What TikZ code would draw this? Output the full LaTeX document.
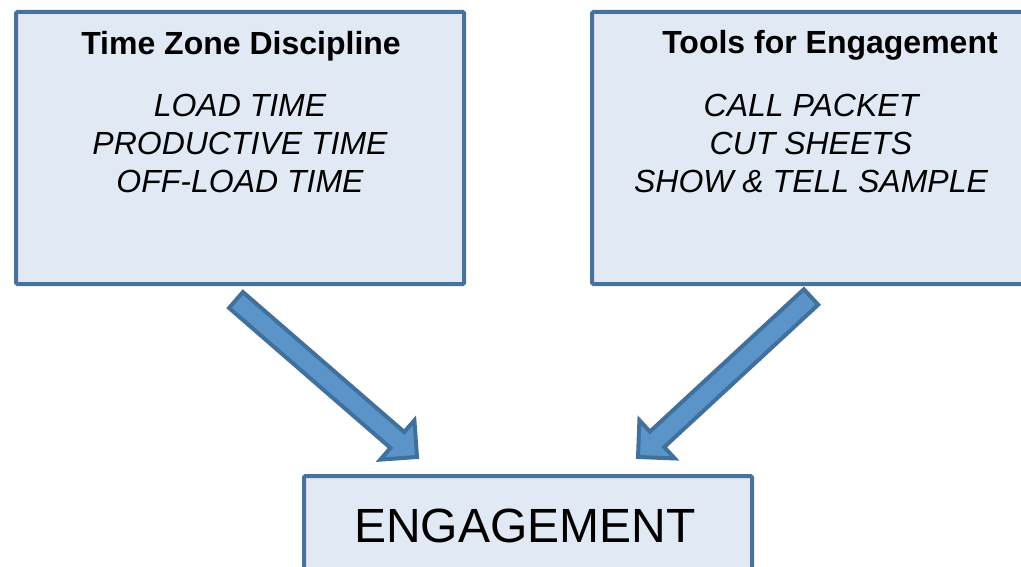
\documentclass[tikz,border=0pt]{standalone}
\usepackage{fontspec}
\setmainfont{Liberation Sans}
\usetikzlibrary{calc}
\definecolor{boxfill}{HTML}{E1E9F4}
\definecolor{boxline}{HTML}{4A719A}
\definecolor{arrowfill}{HTML}{5B94C9}
\definecolor{arrowline}{HTML}{41709C}
\tikzset{
  panel/.style={draw=boxline, fill=boxfill, line width=3pt, rounded corners=1pt},
  heading/.style={anchor=base, font=\fontsize{24}{28}\selectfont\bfseries, inner sep=0pt},
  item/.style={anchor=base, font=\fontsize{24}{28}\selectfont\itshape, inner sep=0pt},
  bigword/.style={anchor=base, font=\fontsize{36}{40}\selectfont, inner sep=0pt},
  blockarrow/.style={draw=arrowline, fill=arrowfill, line width=3pt, line join=miter}
}
% draws a block arrow from tail #1 to tip #2
\newcommand{\blockarrowpath}[2]{%
  \coordinate (hb) at ($(#2)!19.5pt!(#1)$);
  \path[blockarrow]
    ($(#1)!7.9pt!90:(#2)$) -- ($(hb)!7.9pt!90:(#2)$) -- ($(hb)!19.5pt!90:(#2)$)
    -- (#2) -- ($(hb)!19.5pt!-90:(#2)$) -- ($(hb)!7.9pt!-90:(#2)$)
    -- ($(#1)!7.9pt!-90:(#2)$) -- cycle;
}
\begin{document}
\begin{tikzpicture}[x=0.75pt, y=-0.75pt]
  \path[use as bounding box, clip] (0,0) rectangle (1021,567);
  \fill[white] (0,0) rectangle (1021,567);

  % the three boxes
  \node[panel, inner sep=0pt, minimum width=448*0.75pt, minimum height=272*0.75pt, anchor=north west] (tzd) at (14,10) {};
  \node[panel, inner sep=0pt, minimum width=442*0.75pt, minimum height=272*0.75pt, anchor=north west] (tfe) at (590,10) {};
  \node[panel, inner sep=0pt, minimum width=448*0.75pt, minimum height=126*0.75pt, anchor=north west] (eng) at (302,474) {};

  % left box text
  \node[heading] (tzdtitle) at (241,55) {Time Zone Discipline};
  \node[item] (tzda) at (240,117) {LOAD TIME};
  \node[item] (tzdb) at (240,154) {PRODUCTIVE TIME};
  \node[item] (tzdc) at (240,192) {OFF-LOAD TIME};

  % right box text
  \node[heading] (tfetitle) at (830,54) {Tools for Engagement};
  \node[item] (tfea) at (811,117) {CALL PACKET};
  \node[item] (tfeb) at (811,154) {CUT SHEETS};
  \node[item] (tfec) at (811,192) {SHOW \& TELL SAMPLE};

  % bottom box text
  \node[bigword] (engtext) at (525,542) {ENGAGEMENT};

  % block arrows into the bottom box
  \coordinate (ltail) at (236,300);
  \coordinate (ltip) at (417,457);
  \coordinate (rtail) at (811,297);
  \coordinate (rtip) at (638,457);
  \blockarrowpath{ltail}{ltip}
  \blockarrowpath{rtail}{rtip}
\end{tikzpicture}
\end{document}
